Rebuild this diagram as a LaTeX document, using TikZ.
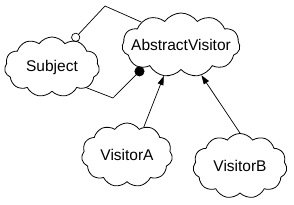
\documentclass[tikz,border=0pt]{standalone}
\usepackage{fontspec}
\setmainfont{Liberation Sans}
\usetikzlibrary{shapes.symbols,arrows.meta}
\tikzset{
  classcloud/.style = {draw, cloud, cloud puffs=11, cloud puff arc=110,
    cloud ignores aspect, inner sep=0pt, line width=0.8pt,
    font=\fontsize{15.5}{18}\selectfont,
    execute at begin node={\hbox to 0pt\bgroup\hss},
    execute at end node={\hss\egroup}},
  uses/.style = {line width=0.7pt},
  inherits/.style = {line width=0.7pt, -{Triangle[length=9pt,width=6pt]}}
}
\begin{document}
\begin{tikzpicture}[x=1pt,y=1pt]
        \useasboundingbox (0,0) rectangle (294,204);
            \node[classcloud, minimum width=95pt, minimum height=60pt] (subject) at (52,137) {Subject};
            \node[classcloud, minimum width=118pt, minimum height=64pt] (abstract) at (181,159) {AbstractVisitor};
            \node[classcloud, minimum width=91pt, minimum height=64pt] (visitorA) at (127,49) {VisitorA};
            \node[classcloud, minimum width=94pt, minimum height=65pt] (visitorB) at (240,38) {VisitorB};
            \coordinate (bendtop) at (105,198);
            \coordinate (bendlow) at (113,106);
            \draw[uses, {Circle[open,length=9pt]}-] (subject.52) -- (bendtop) -- (abstract.150);
            \draw[uses, {Circle[length=10pt]}-] (abstract.211) -- (bendlow) -- (subject.-31);
            \draw[inherits] (visitorA.59) -- (abstract.241);
            \draw[inherits] (visitorB.90) -- (abstract.304);
        \end{tikzpicture}
\end{document}
